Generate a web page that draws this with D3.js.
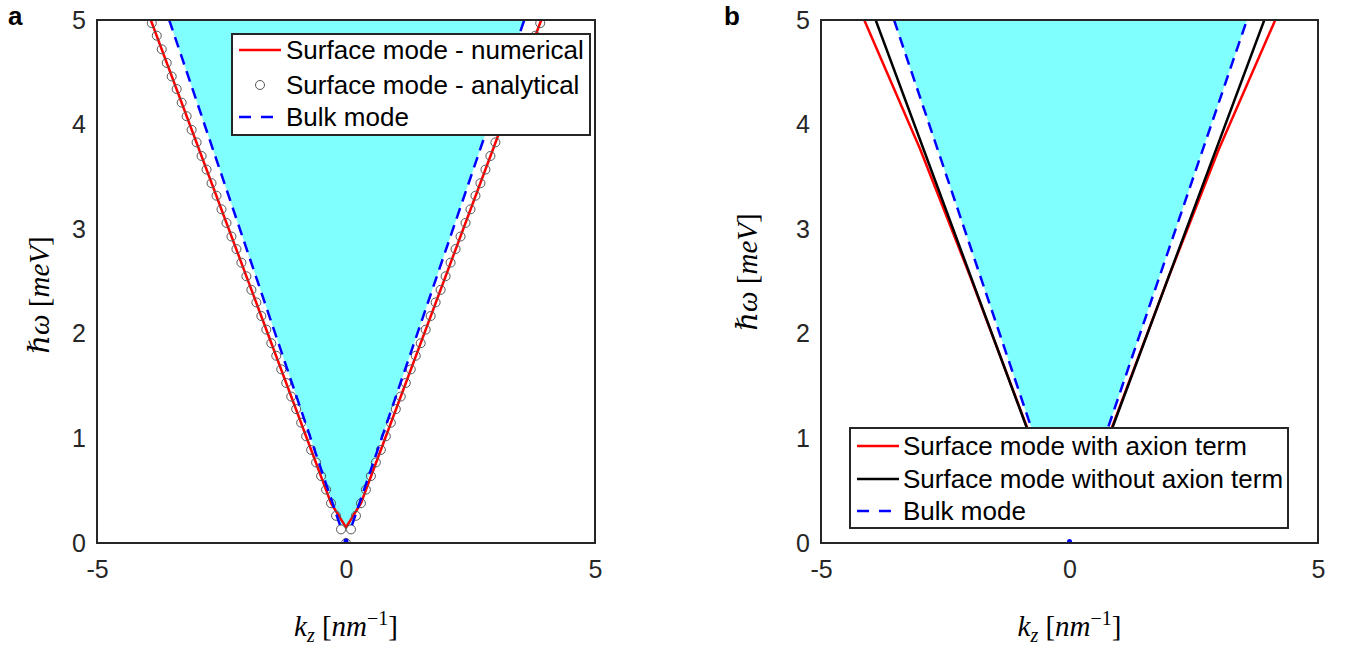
<!DOCTYPE html>
<html>
<head>
<meta charset="utf-8">
<script src="https://cdn.jsdelivr.net/npm/d3@7"></script>
<style>
  html, body { margin: 0; padding: 0; background: #fff; }
  svg { display: block; }
  .tick text { font-family: "Liberation Sans", Arial, sans-serif; font-size: 25px; fill: #262626; }
  .leg text { font-family: "Liberation Sans", Arial, sans-serif; font-size: 26px; fill: #000; }
  .mathlabel { font-family: "Liberation Serif", "DejaVu Serif", serif; font-size: 29px; fill: #000; }
  .panel-letter { font-family: "Liberation Sans", Arial, sans-serif; font-size: 26px; font-weight: bold; fill: #000; }
</style>
</head>
<body>
<svg id="fig" width="1356" height="650"></svg>
<script>
// ---------- data ----------
const xTicks = [-5, 0, 5];
const yTicks = [0, 1, 2, 3, 4, 5];

// Panel a: surface mode, analytical points (k_z in nm^-1, energy in meV)
const kAnalytical = [-3.9,-3.8,-3.7,-3.6,-3.5,-3.4,-3.3,-3.2,-3.1,-3.0,-2.9,-2.8,-2.7,-2.6,-2.5,-2.4,-2.3,-2.2,-2.1,-2.0,
  -1.9,-1.8,-1.7,-1.6,-1.5,-1.4,-1.3,-1.2,-1.1,-1.0,-0.9,-0.8,-0.7,-0.6,-0.5,-0.4,-0.3,-0.2,-0.1,0,
  0.1,0.2,0.3,0.4,0.5,0.6,0.7,0.8,0.9,1.0,1.1,1.2,1.3,1.4,1.5,1.6,1.7,1.8,1.9,2.0,
  2.1,2.2,2.3,2.4,2.5,2.6,2.7,2.8,2.9,3.0,3.1,3.2,3.3,3.4,3.5,3.6,3.7,3.8,3.9];
const omegaAnalytical = [4.97,4.85,4.72,4.59,4.46,4.34,4.21,4.08,3.95,3.83,3.70,3.57,3.44,3.32,3.19,3.06,2.93,2.81,2.68,2.55,
  2.42,2.30,2.17,2.04,1.91,1.79,1.66,1.53,1.40,1.28,1.15,1.02,0.89,0.77,0.64,0.51,0.38,0.26,0.13,0,
  0.13,0.26,0.38,0.51,0.64,0.77,0.89,1.02,1.15,1.28,1.40,1.53,1.66,1.79,1.91,2.04,2.17,2.30,2.42,2.55,
  2.68,2.81,2.93,3.06,3.19,3.32,3.44,3.57,3.70,3.83,3.95,4.08,4.21,4.34,4.46,4.59,4.72,4.85,4.97];

// Panel a: surface mode, numerical solution
const kNumerical = [-3.92, -0.3, 0, 0.3, 3.92];
const omegaNumerical = [5, 0.38, 0.15, 0.38, 5];

// Panel a: bulk mode edges (left and right branch) and the k = 0 point
const kBulkLeftA = [-3.55, -0.12];
const omegaBulkLeftA = [5, 0.17];
const kBulkRightA = [0.12, 3.58];
const omegaBulkRightA = [0.17, 5];
const bulkCenterA = [0, 0.02];

// Panel b: surface mode with axion term
const kAxion = [-4.13, -3.0, -2.0, -0.85, -0.25, 0.25, 0.85, 2.0, 3.0, 4.14];
const omegaAxion = [5, 3.76, 2.55, 1.1, 0.32, 0.32, 1.1, 2.55, 3.76, 5];

// Panel b: surface mode without axion term
const kNoAxion = [-3.9, -0.25, 0.25, 3.92];
const omegaNoAxion = [5, 0.32, 0.32, 5];

// Panel b: bulk mode edges and the k = 0 point
const kBulkLeftB = [-3.53, -0.2];
const omegaBulkLeftB = [5, 0.3];
const kBulkRightB = [0.2, 3.57];
const omegaBulkRightB = [0.3, 5];
const bulkCenterB = [0, 0.015];

const legendA = ["Surface mode - numerical", "Surface mode - analytical", "Bulk mode"];
const legendB = ["Surface mode with axion term", "Surface mode without axion term", "Bulk mode"];

// ---------- drawing ----------
const svg = d3.select("#fig");
const zip = (ks, ws) => ks.map((k, i) => [k, ws[i]]);

const RED = "#ff0000", BLUE = "#0000ff", CYAN = "#80ffff", FRAME = "#262626";
const DASH = "11,7";

function makePanel(id, left, right, top, bottom) {
  const x = d3.scaleLinear().domain([-5, 5]).range([left, right]);
  const y = d3.scaleLinear().domain([0, 5]).range([bottom, top]);
  const g = svg.append("g").attr("id", id);
  g.append("clipPath").attr("id", id + "-clip")
    .append("rect").attr("x", left).attr("y", top).attr("width", right - left).attr("height", bottom - top);
  const plot = g.append("g").attr("clip-path", `url(#${id}-clip)`);
  const line = d3.line().x(d => x(d[0])).y(d => y(d[1]));
  return { x, y, g, plot, line, left, right, top, bottom };
}

function drawAxes(p, labelX, labelYcenter) {
  // frame
  p.g.append("rect").attr("x", p.left).attr("y", p.top)
    .attr("width", p.right - p.left).attr("height", p.bottom - p.top)
    .attr("fill", "none").attr("stroke", FRAME).attr("stroke-width", 2);
  const fmt = d => String(d);
  const ax = p.g.append("g").attr("transform", `translate(0,${p.bottom})`)
    .call(d3.axisBottom(p.x).tickValues(xTicks).tickFormat(fmt).tickSize(0).tickPadding(17));
  ax.select(".domain").remove();
  ax.selectAll(".tick text").attr("dy", "0.71em");
  const ay = p.g.append("g").attr("transform", `translate(${p.left},0)`)
    .call(d3.axisLeft(p.y).tickValues(yTicks).tickFormat(fmt).tickSize(0).tickPadding(11));
  ay.select(".domain").remove();

  // x label: k_z [nm^-1]
  const xl = p.g.append("text").attr("class", "mathlabel")
    .attr("x", (p.left + p.right) / 2).attr("y", 636).attr("text-anchor", "middle");
  xl.append("tspan").attr("font-style", "italic").text("k");
  xl.append("tspan").attr("font-style", "italic").attr("font-size", "20px").attr("dy", 6).text("z");
  xl.append("tspan").attr("dy", -6).text(" [");
  xl.append("tspan").attr("font-style", "italic").text("nm");
  xl.append("tspan").attr("font-size", "20px").attr("dy", -11).text("\u22121");
  xl.append("tspan").attr("dy", 11).text("]");

  // y label: ħω [meV]
  const yl = p.g.append("text").attr("class", "mathlabel")
    .attr("transform", `translate(${labelX},${labelYcenter}) rotate(-90)`)
    .attr("text-anchor", "middle").attr("dy", "0.32em");
  yl.append("tspan").attr("font-style", "italic").text("\u210F\u03C9");
  yl.append("tspan").text(" [");
  yl.append("tspan").attr("font-style", "italic").text("meV");
  yl.append("tspan").text("]");
}

function bulkFill(p, leftPts, rightPts) {
  const pts = leftPts.concat(rightPts);
  p.plot.append("path").attr("d", p.line(pts) + "Z").attr("fill", CYAN).attr("stroke", "none");
}

function drawLegend(p, x0, y0, w, h, rows, items) {
  const lg = p.g.append("g").attr("class", "leg");
  lg.append("rect").attr("x", x0).attr("y", y0).attr("width", w).attr("height", h)
    .attr("fill", "#fff").attr("stroke", FRAME).attr("stroke-width", 2);
  items.forEach((it, i) => {
    const cy = rows[i];
    const sx0 = x0 + 7, sx1 = x0 + 49;
    if (it.type === "line") {
      lg.append("line").attr("x1", sx0).attr("x2", sx1).attr("y1", cy).attr("y2", cy)
        .attr("stroke", it.color).attr("stroke-width", 2.5)
        .attr("stroke-dasharray", it.dash ? "12,10" : null);
    } else {
      lg.append("circle").attr("cx", (sx0 + sx1) / 2).attr("cy", cy).attr("r", 4.5)
        .attr("fill", "none").attr("stroke", "#555").attr("stroke-width", 1);
    }
    lg.append("text").attr("x", x0 + it.tx).attr("y", cy).attr("dy", "0.36em").text(it.label);
  });
}

// ----- panel a -----
const pa = makePanel("panel-a", 97, 595, 20, 543);
const bulkLA = zip(kBulkLeftA, omegaBulkLeftA), bulkRA = zip(kBulkRightA, omegaBulkRightA);
bulkFill(pa, bulkLA, bulkRA);
pa.plot.append("path").attr("d", pa.line(zip(kNumerical, omegaNumerical)))
  .attr("fill", "none").attr("stroke", RED).attr("stroke-width", 2.5).attr("stroke-linejoin", "round");
pa.plot.selectAll("circle.analytic").data(zip(kAnalytical, omegaAnalytical)).enter()
  .append("circle").attr("class", "analytic")
  .attr("cx", d => pa.x(d[0])).attr("cy", d => pa.y(d[1])).attr("r", 4.5)
  .attr("fill", "none").attr("stroke", "#555").attr("stroke-width", 1);
[bulkLA, bulkRA].forEach(seg => pa.plot.append("path").attr("d", pa.line(seg))
  .attr("fill", "none").attr("stroke", BLUE).attr("stroke-width", 2.5).attr("stroke-dasharray", DASH));
pa.g.append("circle").attr("cx", pa.x(bulkCenterA[0])).attr("cy", pa.y(bulkCenterA[1])).attr("r", 2.5).attr("fill", BLUE);
drawAxes(pa, 40, 295);
drawLegend(pa, 232, 34, 358, 101, [50, 85, 117], [
  { type: "line", color: RED, label: legendA[0], tx: 54 },
  { type: "marker", label: legendA[1], tx: 54 },
  { type: "line", color: BLUE, dash: true, label: legendA[2], tx: 54 }
]);

// ----- panel b -----
const pb = makePanel("panel-b", 821, 1318, 20, 543);
const bulkLB = zip(kBulkLeftB, omegaBulkLeftB), bulkRB = zip(kBulkRightB, omegaBulkRightB);
bulkFill(pb, bulkLB, bulkRB);
pb.plot.append("path").attr("d", pb.line(zip(kAxion, omegaAxion)))
  .attr("fill", "none").attr("stroke", RED).attr("stroke-width", 2.5).attr("stroke-linejoin", "round");
pb.plot.append("path").attr("d", pb.line(zip(kNoAxion, omegaNoAxion)))
  .attr("fill", "none").attr("stroke", "#000").attr("stroke-width", 2.5).attr("stroke-linejoin", "round");
[bulkLB, bulkRB].forEach(seg => pb.plot.append("path").attr("d", pb.line(seg))
  .attr("fill", "none").attr("stroke", BLUE).attr("stroke-width", 2.5).attr("stroke-dasharray", DASH));
pb.g.append("circle").attr("cx", pb.x(bulkCenterB[0])).attr("cy", pb.y(bulkCenterB[1])).attr("r", 2.5).attr("fill", BLUE);
drawAxes(pb, 748, 272);
drawLegend(pb, 850, 428, 438, 100, [446, 479, 511], [
  { type: "line", color: RED, label: legendB[0], tx: 53 },
  { type: "line", color: "#000", label: legendB[1], tx: 53 },
  { type: "line", color: BLUE, dash: true, label: legendB[2], tx: 53 }
]);

// panel letters
svg.append("text").attr("class", "panel-letter").attr("x", 8).attr("y", 25).text("a");
svg.append("text").attr("class", "panel-letter").attr("x", 724).attr("y", 25).text("b");
</script>
</body>
</html>
